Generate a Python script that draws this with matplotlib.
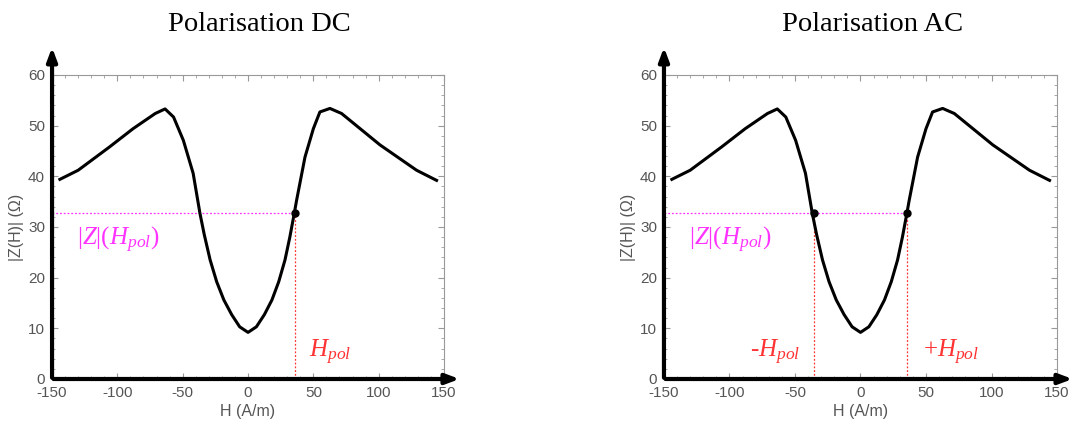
import matplotlib
matplotlib.use("Agg")
import matplotlib.pyplot as plt
from matplotlib.ticker import MultipleLocator

plt.rcParams["font.family"] = "Liberation Sans"
plt.rcParams["axes.unicode_minus"] = False
plt.rcParams["mathtext.fontset"] = "custom"
plt.rcParams["mathtext.rm"] = "Liberation Serif"
plt.rcParams["mathtext.it"] = "Liberation Serif:italic"

# |Z(H)| curve
H = [-144, -130, -106, -88, -71, -63.5, -57, -49.5, -42, -36.8, -33.5, -29, -24, -18.5,
     -12.5, -6.4, 0, 6.4, 12.5, 18.3, 23.5, 28.3, 32, 35.4, 37.2, 43.6, 50, 55, 62.7,
     71.6, 101, 129, 144.3]
Z = [39.4, 41.2, 45.8, 49.4, 52.4, 53.3, 51.7, 47.1, 40.6, 32.7, 28.5, 23.5, 19.2, 15.6,
     12.7, 10.3, 9.2, 10.3, 12.7, 15.6, 19.2, 23.5, 28, 32.7, 35.3, 43.8, 49.4, 52.7, 53.4,
     52.4, 46.2, 41.2, 39.2]

h_pol = 35.8
z_pol = 32.8
titles = ["Polarisation DC", "Polarisation AC"]
pol_points = [[h_pol], [-h_pol, h_pol]]

grey = "#555555"
magenta = "#ff33ff"
red = "#ff3333"

fig = plt.figure(figsize=(10.73, 4.28), dpi=100)
ax_left = fig.add_axes([0.0485, 0.1145, 0.3653, 0.7103])
ax_right = fig.add_axes([0.6188, 0.1145, 0.3663, 0.7103])

for ax, title, points in zip([ax_left, ax_right], titles, pol_points):
    ax.set_xlim(-150, 150)
    ax.set_ylim(0, 60)
    ax.plot(H, Z, color="black", lw=2.2, zorder=3)

    # polarisation point(s)
    ax.plot([-150, max(points)], [z_pol, z_pol], color=magenta, lw=0.9, ls=(0, (1.5, 1.5)), zorder=2)
    for p in points:
        ax.plot([p, p], [0, z_pol], color=red, lw=0.9, ls=(0, (1.5, 1.5)), zorder=2)
        ax.plot(p, z_pol, "o", color="black", ms=5, zorder=4)

    ax.text(-131, 27.4, r"$|Z|(H_{pol})$", color=magenta, fontsize=18, va="center", ha="left")
    if len(points) == 1:
        ax.text(47, 5.3, r"$H_{pol}$", color=red, fontsize=18, va="center", ha="left")
    else:
        ax.text(-46, 5.3, r"-$H_{pol}$", color=red, fontsize=18, va="center", ha="right",
                family="Liberation Serif", style="italic")
        ax.text(47.5, 5.3, r"+$H_{pol}$", color=red, fontsize=18, va="center", ha="left",
                family="Liberation Serif")

    # frame: grey top/right, thick arrows for the axes
    for side in ["top", "right"]:
        ax.spines[side].set_color("#999999")
        ax.spines[side].set_linewidth(0.8)
    ax.spines["left"].set_visible(False)
    ax.spines["bottom"].set_visible(False)
    ax.annotate("", xy=(-150, 66), xytext=(-150, -0.3), annotation_clip=False,
                arrowprops=dict(arrowstyle="-|>,head_width=0.3,head_length=0.8", color="black", lw=3))
    ax.annotate("", xy=(164, 0), xytext=(-151, 0), annotation_clip=False,
                arrowprops=dict(arrowstyle="-|>,head_width=0.3,head_length=0.8", color="black", lw=3))

    ax.xaxis.set_major_locator(MultipleLocator(50))
    ax.xaxis.set_minor_locator(MultipleLocator(10))
    ax.yaxis.set_major_locator(MultipleLocator(10))
    ax.yaxis.set_minor_locator(MultipleLocator(2))
    ax.tick_params(which="both", direction="in", top=True, right=True, colors="#999999",
                   labelcolor=grey, labelsize=11)
    ax.tick_params(which="major", length=4, pad=5)
    ax.tick_params(which="minor", length=2)

    ax.set_xlabel("H (A/m)", color=grey, fontsize=11.5, labelpad=3)
    ax.set_ylabel("|Z(H)| (Ω)", color=grey, fontsize=11.5, labelpad=3)
    ax.set_title(title, fontsize=20.5, family="Liberation Serif", pad=32, x=0.53)

plt.savefig("out.png", dpi=100)
plt.close()
